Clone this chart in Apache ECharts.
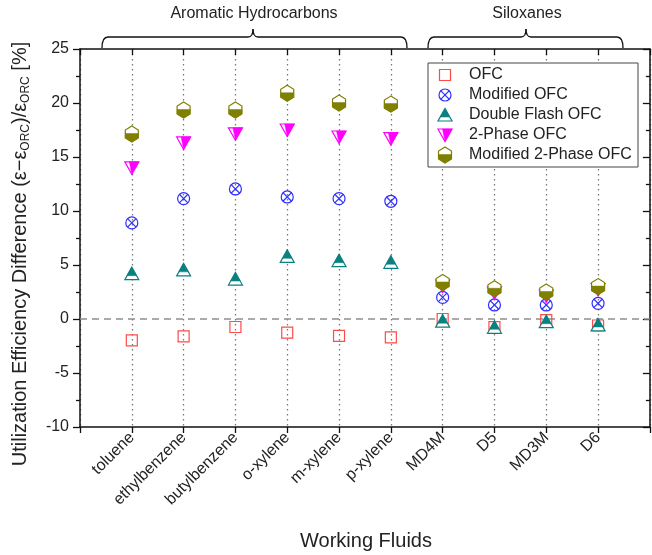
<!DOCTYPE html>
<html>
<head>
<meta charset="utf-8">
<script src="https://cdn.jsdelivr.net/npm/echarts@6/dist/echarts.min.js"></script>
<style>html,body{margin:0;padding:0;background:#fff;}#chart{width:652px;height:555px;}</style>
</head>
<body>
<div id="chart"></div>
<script>
const categories = ['toluene','ethylbenzene','butylbenzene','o-xylene','m-xylene','p-xylene','MD4M','D5','MD3M','D6'];
const ofc          = [-1.98, -1.60, -0.74, -1.27, -1.56, -1.71,  0.00, -0.75, -0.10, -0.60];
const modifiedOfc  = [ 8.90, 11.15, 12.04, 11.30, 11.15, 10.90,  2.00,  1.30,  1.30,  1.45];
const doubleFlash  = [ 4.20,  4.55,  3.70,  5.80,  5.40,  5.25, -0.20, -0.77, -0.25, -0.55];
const twoPhase     = [14.00, 16.30, 17.15, 17.50, 16.85, 16.70,  3.05,  2.42,  2.13,  2.73];
const modTwoPhase  = [17.13, 19.35, 19.35, 20.90, 20.00, 19.90,  3.38,  2.80,  2.50,  3.00];
const seriesNames  = ['OFC','Modified OFC','Double Flash OFC','2-Phase OFC','Modified 2-Phase OFC'];
const yMin = -10, yMax = 25, yStep = 5;

const FONT = 'Arial, "Liberation Sans", sans-serif';
const COL = {sq:'#ff4a4a', cx:'#2f2fff', tu:'#0b8080', td:'#ff00ff', hx:'#7f7f00'};

function glyph(kind, cx, cy, z) {
  const lw = 1.2;
  let els;
  if (kind === 'sq') {
    els = [{type:'rect', shape:{x:cx-5.5, y:cy-5.5, width:11, height:11}, style:{fill:'none', stroke:COL.sq, lineWidth:lw}}];
  } else if (kind === 'cx') {
    const d = 4.3;
    els = [
      {type:'circle', shape:{cx:cx, cy:cy, r:6}, style:{fill:'none', stroke:COL.cx, lineWidth:lw}},
      {type:'line', shape:{x1:cx-d, y1:cy-d, x2:cx+d, y2:cy+d}, style:{stroke:COL.cx, lineWidth:lw}},
      {type:'line', shape:{x1:cx-d, y1:cy+d, x2:cx+d, y2:cy-d}, style:{stroke:COL.cx, lineWidth:lw}}
    ];
  } else if (kind === 'tu') {
    const top = cy-6.5, bot = cy+6, hw = 7;
    const f = 0.68, ym = top + (bot-top)*f, hm = hw*f;
    els = [
      {type:'polygon', shape:{points:[[cx,top],[cx-hw,bot],[cx+hw,bot]]}, style:{fill:'#fff', stroke:COL.tu, lineWidth:lw}},
      {type:'polygon', shape:{points:[[cx,top],[cx-hm,ym],[cx+hm,ym]]}, style:{fill:COL.tu, stroke:COL.tu, lineWidth:0.5}}
    ];
  } else if (kind === 'td') {
    const top = cy-6, bot = cy+6.5, hw = 7;
    els = [
      {type:'polygon', shape:{points:[[cx-hw,top],[cx+hw,top],[cx,bot]]}, style:{fill:'#fff', stroke:COL.td, lineWidth:lw}},
      {type:'polygon', shape:{points:[[cx-2.5,top],[cx+hw,top],[cx,bot]]}, style:{fill:COL.td, stroke:COL.td, lineWidth:0.5}}
    ];
  } else {
    const hw = 6.5, hh = 8, hs = 4;
    const ym = cy-0.5;
    els = [
      {type:'polygon', shape:{points:[[cx,cy-hh],[cx+hw,cy-hs],[cx+hw,cy+hs],[cx,cy+hh],[cx-hw,cy+hs],[cx-hw,cy-hs]]}, style:{fill:'#fff', stroke:COL.hx, lineWidth:lw}},
      {type:'polygon', shape:{points:[[cx-hw,ym],[cx+hw,ym],[cx+hw,cy+hs],[cx,cy+hh],[cx-hw,cy+hs]]}, style:{fill:COL.hx, stroke:COL.hx, lineWidth:0.5}}
    ];
  }
  if (z != null) els.forEach(e => { e.z = z; });
  return els;
}

const kinds = ['sq','cx','tu','td','hx'];
const allValues = [ofc, modifiedOfc, doubleFlash, twoPhase, modTwoPhase];

function makeSeries(i) {
  const kind = kinds[i];
  const s = {
    type: 'custom',
    name: seriesNames[i],
    z: 5 + i,
    data: allValues[i].map((v, k) => [k + 1, v]),
    renderItem: function (params, api) {
      const p = api.coord([api.value(0), api.value(1)]);
      return {type:'group', children: glyph(kind, p[0], p[1])};
    }
  };
  if (i === 0) {
    s.markLine = {
      silent: true, symbol: 'none', z: 1,
      label: {show: false},
      lineStyle: {type: [7, 5], color: '#8f8f8f', width: 1.6},
      data: [{yAxis: 0}]
    };
  }
  return s;
}

// legend via graphic
const legendX = 428, legendY = 63, legendW = 210, legendH = 104;
const legendEls = [{type:'rect', shape:{x:legendX, y:legendY, width:legendW, height:legendH}, style:{fill:'#fff', stroke:'#444', lineWidth:1}, z:100}];
seriesNames.forEach((n, i) => {
  const cy = 75 + i * 20;
  glyph(kinds[i], 445, cy, 102).forEach(e => legendEls.push(e));
  legendEls.push({type:'text', z:102, x:469, y:cy, style:{text:n, font:'16px ' + FONT, fill:'#222', verticalAlign:'middle', align:'left'}});
});

function brace(x1, x2, xc, yTop, yEnd, yPeak) {
  const st = {stroke:'#111', lineWidth:1.3, fill:'none'};
  const r = 6;
  return [
    {type:'bezierCurve', shape:{x1:x1, y1:yEnd, cpx1:x1, cpy1:yTop, x2:x1+r, y2:yTop}, style:st},
    {type:'line', shape:{x1:x1+r, y1:yTop, x2:xc-5, y2:yTop}, style:st},
    {type:'bezierCurve', shape:{x1:xc-5, y1:yTop, cpx1:xc, cpy1:yTop, x2:xc, y2:yPeak}, style:st},
    {type:'bezierCurve', shape:{x1:xc+5, y1:yTop, cpx1:xc, cpy1:yTop, x2:xc, y2:yPeak}, style:st},
    {type:'line', shape:{x1:xc+5, y1:yTop, x2:x2-r, y2:yTop}, style:st},
    {type:'bezierCurve', shape:{x1:x2-r, y1:yTop, cpx1:x2, cpy1:yTop, x2:x2, y2:yEnd}, style:st}
  ];
}

const graphics = [].concat(
  brace(102, 407, 253, 37, 48, 29),
  brace(428, 623, 526, 37, 48, 29),
  [
    {type:'text', x:254, y:14, style:{text:'Aromatic Hydrocarbons', font:'16px "Liberation Sans Narrow", "Arial Narrow", ' + FONT, fill:'#222', align:'center', verticalAlign:'middle'}},
    {type:'text', x:527, y:14, style:{text:'Siloxanes', font:'16px "Liberation Sans Narrow", "Arial Narrow", ' + FONT, fill:'#222', align:'center', verticalAlign:'middle'}},
    {type:'text', x:366, y:541, style:{text:'Working Fluids', font:'20px ' + FONT, fill:'#222', align:'center', verticalAlign:'middle'}},
    {type:'text', x:20, y:254, rotation: Math.PI/2,
      style:{
        text:'{a|Utilization Efficiency Difference (ε−ε}{s|ORC}{a|)/ε}{s|ORC}{a| [%]}',
        align:'center', verticalAlign:'middle',
        rich:{
          a:{fontSize:20, fontFamily:FONT, fill:'#222', lineHeight:24, verticalAlign:'middle'},
          s:{fontSize:12, fontFamily:FONT, fill:'#222', lineHeight:12, verticalAlign:'bottom'}
        }
      }}
  ],
  legendEls
);

const axisLine = {show:true, onZero:false, lineStyle:{color:'#111', width:1.5}};
const tickStyle = {color:'#111', width:1.3};

const option = {
  animation: false,
  backgroundColor: '#fff',
  grid: {left: 80, right: 1, top: 49, bottom: 128, containLabel: false},
  xAxis: [
    {
      type:'value', position:'bottom', min:0, max:categories.length + 1, interval:1,
      axisLine: axisLine,
      axisTick: {show:true, inside:false, length:6, lineStyle:tickStyle},
      axisLabel: {show:true, rotate:45, margin:8, fontSize:16, fontFamily:FONT, color:'#222',
        formatter: function (v) { return (v >= 1 && v <= categories.length) ? categories[v - 1] : ''; }},
      splitLine: {show:true, lineStyle:{type:[1.5, 3.5], color:'#777', width:1.3}}
    },
    {
      type:'value', position:'top', min:0, max:categories.length + 1, interval:1,
      axisLine: axisLine,
      axisTick: {show:true, inside:true, length:6, lineStyle:tickStyle},
      axisLabel: {show:false}, splitLine: {show:false}
    }
  ],
  yAxis: [
    {
      type:'value', position:'left', min:yMin, max:yMax, interval:yStep,
      axisLine: axisLine,
      axisTick: {show:true, inside:false, length:7, lineStyle:tickStyle},
      minorTick: {show:true, splitNumber:2, length:4, lineStyle:tickStyle},
      axisLabel: {show:true, margin:11, fontSize:16, fontFamily:FONT, color:'#222'},
      splitLine: {show:false}
    },
    {
      type:'value', position:'right', min:yMin, max:yMax, interval:yStep,
      axisLine: axisLine,
      axisTick: {show:true, inside:true, length:7, lineStyle:tickStyle},
      minorTick: {show:true, splitNumber:2, length:4, lineStyle:tickStyle},
      axisLabel: {show:false}, splitLine: {show:false}
    }
  ],
  graphic: graphics,
  series: [0,1,2,3,4].map(makeSeries)
};

const chart = echarts.init(document.getElementById('chart'), null, {renderer:'canvas'});
chart.setOption(option);
</script>
</body>
</html>
